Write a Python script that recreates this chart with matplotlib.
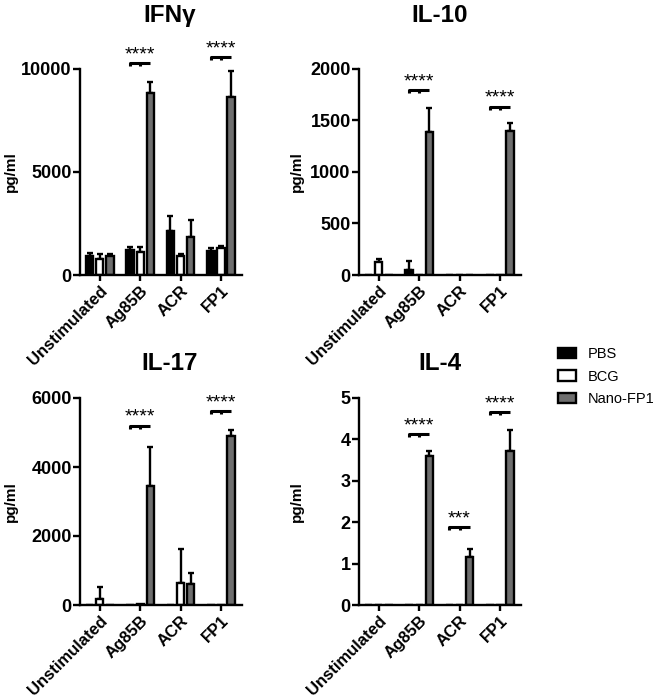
import numpy as np
import matplotlib
matplotlib.use("Agg")
import matplotlib.pyplot as plt
from matplotlib.patches import Patch
from matplotlib.transforms import ScaledTranslation

plt.rcParams['font.family'] = ['Liberation Sans', 'DejaVu Sans']

groups = ['Unstimulated', 'Ag85B', 'ACR', 'FP1']
series = ['PBS', 'BCG', 'Nano-FP1']
colors = ['black', 'white', '#6e6e6e']

# IFN-gamma (pg/ml), mean and upper SD
ifng_pbs = [900, 1230, 2150, 1145]
ifng_pbs_sd = [170, 130, 690, 145]
ifng_bcg = [780, 1115, 900, 1310]
ifng_bcg_sd = [250, 255, 130, 80]
ifng_nano = [935, 8830, 1825, 8660]
ifng_nano_sd = [95, 560, 855, 1220]

# IL-10
il10_pbs = [0, 50, 0, 0]
il10_pbs_sd = [0, 90, 0, 0]
il10_bcg = [130, 0, 0, 0]
il10_bcg_sd = [25, 0, 0, 0]
il10_nano = [0, 1390, 0, 1400]
il10_nano_sd = [0, 234, 0, 78]

# IL-17
il17_pbs = [0, 0, 0, 0]
il17_pbs_sd = [0, 0, 0, 0]
il17_bcg = [180, 20, 650, 0]
il17_bcg_sd = [330, 0, 980, 0]
il17_nano = [0, 3435, 600, 4906]
il17_nano_sd = [0, 1142, 320, 154]

# IL-4
il4_pbs = [0, 0, 0, 0]
il4_pbs_sd = [0, 0, 0, 0]
il4_bcg = [0, 0, 0, 0]
il4_bcg_sd = [0, 0, 0, 0]
il4_nano = [0, 3.59, 1.17, 3.72]
il4_nano_sd = [0, 0.14, 0.18, 0.50]

# significance brackets: (group index, bracket height, label)
ifng_sig = [(1, 10280, '****'), (3, 10580, '****')]
il10_sig = [(1, 1795, '****'), (3, 1634, '****')]
il17_sig = [(1, 5196, '****'), (3, 5612, '****')]
il4_sig = [(1, 4.13, '****'), (2, 1.88, '***'), (3, 4.66, '****')]

panels = [
    dict(title='IFNγ', vals=[ifng_pbs, ifng_bcg, ifng_nano],
         sds=[ifng_pbs_sd, ifng_bcg_sd, ifng_nano_sd], sig=ifng_sig,
         yticks=[0, 5000, 10000], pos=[80, 69, 242, 275], title_y=1.228, title_x=0.556, ylab_x=-0.385),
    dict(title='IL-10', vals=[il10_pbs, il10_bcg, il10_nano],
         sds=[il10_pbs_sd, il10_bcg_sd, il10_nano_sd], sig=il10_sig,
         yticks=[0, 500, 1000, 1500, 2000], pos=[359, 69, 521, 275], title_y=1.228, title_x=0.5, ylab_x=-0.34),
    dict(title='IL-17', vals=[il17_pbs, il17_bcg, il17_nano],
         sds=[il17_pbs_sd, il17_bcg_sd, il17_nano_sd], sig=il17_sig,
         yticks=[0, 2000, 4000, 6000], pos=[80, 398, 242, 605], title_y=1.136, title_x=0.556, ylab_x=-0.385),
    dict(title='IL-4', vals=[il4_pbs, il4_bcg, il4_nano],
         sds=[il4_pbs_sd, il4_bcg_sd, il4_nano_sd], sig=il4_sig,
         yticks=[0, 1, 2, 3, 4, 5], pos=[359, 398, 521, 605], title_y=1.136, title_x=0.5, ylab_x=-0.34),
]

W, H = 660, 698
fig = plt.figure(figsize=(W / 100, H / 100), dpi=100)

x = np.arange(len(groups))
offsets = [-0.25, 0, 0.25]
bar_w = 0.18
label_shift = ScaledTranslation(4 / 100, -6 / 100, fig.dpi_scale_trans)

for p in panels:
    l, t, r, b = p['pos']
    ax = fig.add_axes([l / W, 1 - b / H, (r - l) / W, (b - t) / H])
    for k in range(3):
        xs = x + offsets[k]
        v = np.array(p['vals'][k], dtype=float)
        sd = np.array(p['sds'][k], dtype=float)
        ax.bar(xs, v, width=bar_w, color=colors[k], edgecolor='black', linewidth=1.7, zorder=2)
        m = sd > 0
        ax.errorbar(xs[m], v[m], yerr=[np.zeros(m.sum()), sd[m]], fmt='none',
                    ecolor='black', elinewidth=1.7, capsize=2, capthick=1.7, zorder=1)
    ymax = p['yticks'][-1]
    ax.set_ylim(0, ymax)
    ax.set_xlim(-0.49, 3.52)
    ax.set_yticks(p['yticks'])
    ax.set_xticks(x)
    ax.set_xticklabels(groups, rotation=45, ha='right', va='top', rotation_mode='anchor',
                       fontsize=12, fontweight='bold')
    for lab in ax.get_xticklabels():
        lab.set_transform(lab.get_transform() + label_shift)
    for lab in ax.get_yticklabels():
        lab.set_fontweight('bold')
        lab.set_fontsize(13)
    for s in ['top', 'right']:
        ax.spines[s].set_visible(False)
    for s in ['left', 'bottom']:
        ax.spines[s].set_linewidth(1.7)
    ax.tick_params(axis='y', length=5, width=1.7, pad=1)
    ax.tick_params(axis='x', length=4, width=1.7, pad=2)
    ax.set_ylabel('pg/ml', fontsize=11, fontweight='bold')
    ax.yaxis.set_label_coords(p['ylab_x'], 0.5)
    ax.set_title(p['title'], fontsize=17.5, fontweight='bold', x=p['title_x'], y=p['title_y'], pad=0)

    leg = ymax * 0.014
    for gi, yb, label in p['sig']:
        x0, x1 = gi - 0.25, gi + 0.25
        ax.plot([x0, x0, x1], [yb - leg, yb, yb], color='black', lw=2.2,
                clip_on=False, solid_capstyle='butt')
        ax.plot([gi, gi], [yb, yb - leg], color='black', lw=2.2, clip_on=False,
                solid_capstyle='butt')
        ax.annotate(label, (gi, yb), xytext=(0, 0), textcoords='offset points',
                    ha='center', va='bottom', fontsize=14, annotation_clip=False)

handles = [Patch(facecolor=c, edgecolor='black', linewidth=1.7) for c in colors]
fig.legend(handles, series, loc='upper left', bbox_to_anchor=(552 / W, 1 - 341 / H),
           frameon=False, fontsize=10.5, handlelength=1.25, handleheight=0.7,
           handletextpad=0.8, labelspacing=0.6, borderaxespad=0)

fig.savefig('out.png', dpi=100)
